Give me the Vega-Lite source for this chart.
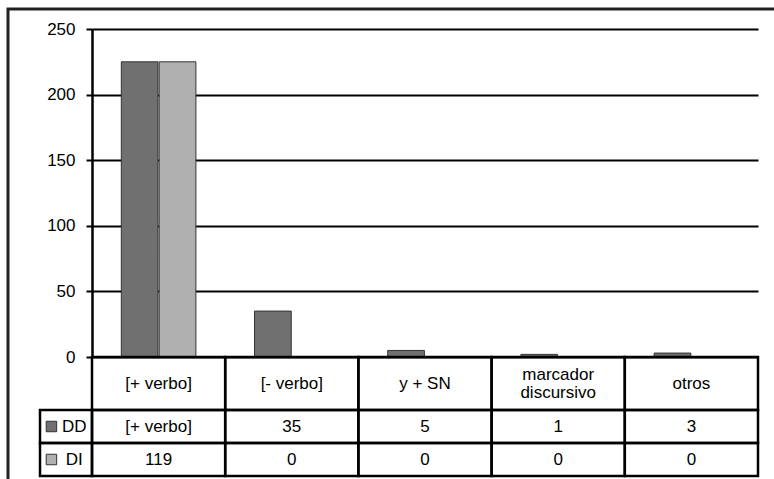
{
  "$schema": "https://vega.github.io/schema/vega-lite/v6.json",
  "width": 666,
  "height": 447,
  "autosize": {"type": "none"},
  "padding": {"left": 92, "top": 29, "right": 16, "bottom": 3},
  "background": "white",
  "config": {
    "view": {"stroke": null},
    "font": "Liberation Sans",
    "text": {"font": "Liberation Sans", "fontSize": 17, "color": "black"}
  },
  "datasets": {
    "bars": [
      {"cat": "[+ verbo]", "series": "DD", "value": 225, "label": "[+ verbo]"},
      {"cat": "[+ verbo]", "series": "DI", "value": 225, "label": "119"},
      {"cat": "[- verbo]", "series": "DD", "value": 35, "label": "35"},
      {"cat": "[- verbo]", "series": "DI", "value": 0, "label": "0"},
      {"cat": "y + SN", "series": "DD", "value": 5, "label": "5"},
      {"cat": "y + SN", "series": "DI", "value": 0, "label": "0"},
      {"cat": "marcador discursivo", "series": "DD", "value": 2, "label": "1"},
      {"cat": "marcador discursivo", "series": "DI", "value": 0, "label": "0"},
      {"cat": "otros", "series": "DD", "value": 3, "label": "3"},
      {"cat": "otros", "series": "DI", "value": 0, "label": "0"}
    ],
    "cats": [
      {"cat": "[+ verbo]", "header": "[+ verbo]", "lines": 1},
      {"cat": "[- verbo]", "header": "[- verbo]", "lines": 1},
      {"cat": "y + SN", "header": "y + SN", "lines": 1},
      {"cat": "marcador discursivo", "header": "marcador\ndiscursivo", "lines": 2},
      {"cat": "otros", "header": "otros", "lines": 1}
    ]
  },
  "resolve": {"scale": {"x": "independent", "y": "independent", "color": "independent", "xOffset": "independent"}},
  "layer": [
    {
      "data": {"name": "bars"},
      "mark": {"type": "bar", "stroke": "#333333", "strokeWidth": 1, "clip": false},
      "encoding": {
        "x": {"field": "cat", "type": "nominal", "axis": null,
              "scale": {"type": "band", "domain": ["[+ verbo]", "[- verbo]", "y + SN", "marcador discursivo", "otros"], "paddingInner": 0.44, "paddingOuter": 0.22}},
        "xOffset": {"field": "series", "type": "nominal", "scale": {"domain": ["DD", "DI"], "paddingInner": 0.03}},
        "y": {"field": "value", "type": "quantitative",
              "scale": {"domain": [0, 250], "range": [328, 0], "nice": false, "zero": true},
              "axis": {"title": null, "values": [0, 50, 100, 150, 200, 250], "grid": true, "gridColor": "black", "gridWidth": 2, "gridOpacity": 1,
                       "domainColor": "black", "domainWidth": 2.5, "tickColor": "black", "tickWidth": 2, "tickSize": 6,
                       "labelFont": "Liberation Sans", "labelFontSize": 17, "labelColor": "black", "labelPadding": 11}},
        "color": {"field": "series", "type": "nominal", "legend": null,
                  "scale": {"domain": ["DD", "DI"], "range": ["#707070", "#b0b0b0"]}}
      }
    },
    {
      "data": {"name": "cats"},
      "mark": {"type": "rect", "fill": null, "fillOpacity": 0, "stroke": "black", "strokeWidth": 2.5, "clip": false},
      "encoding": {
        "x": {"field": "cat", "type": "nominal", "axis": null,
              "scale": {"type": "band", "domain": ["[+ verbo]", "[- verbo]", "y + SN", "marcador discursivo", "otros"], "paddingInner": 0, "paddingOuter": 0}},
        "y": {"datum": "h", "type": "nominal", "axis": null,
              "scale": {"type": "band", "domain": ["h"], "range": [328, 381], "paddingInner": 0, "paddingOuter": 0}}
      }
    },
    {
      "data": {"name": "cats"},
      "transform": [{"filter": "datum.lines === 1"}],
      "mark": {"type": "text", "align": "center", "baseline": "middle", "fontSize": 17, "clip": false},
      "encoding": {
        "x": {"field": "cat", "type": "nominal", "axis": null,
              "scale": {"type": "band", "domain": ["[+ verbo]", "[- verbo]", "y + SN", "marcador discursivo", "otros"], "paddingInner": 0, "paddingOuter": 0}},
        "y": {"datum": "h", "type": "nominal", "axis": null,
              "scale": {"type": "band", "domain": ["h"], "range": [328, 381], "paddingInner": 0, "paddingOuter": 0}},
        "text": {"field": "header"}
      }
    },
    {
      "data": {"name": "cats"},
      "transform": [{"filter": "datum.lines === 2"}],
      "mark": {"type": "text", "lineBreak": "\n", "align": "center", "baseline": "middle", "fontSize": 17, "lineHeight": 18, "dy": -9, "clip": false},
      "encoding": {
        "x": {"field": "cat", "type": "nominal", "axis": null,
              "scale": {"type": "band", "domain": ["[+ verbo]", "[- verbo]", "y + SN", "marcador discursivo", "otros"], "paddingInner": 0, "paddingOuter": 0}},
        "y": {"datum": "h", "type": "nominal", "axis": null,
              "scale": {"type": "band", "domain": ["h"], "range": [328, 381], "paddingInner": 0, "paddingOuter": 0}},
        "text": {"field": "header"}
      }
    },
    {
      "data": {"name": "bars"},
      "mark": {"type": "rect", "fill": null, "fillOpacity": 0, "stroke": "black", "strokeWidth": 2.5, "clip": false},
      "encoding": {
        "x": {"field": "cat", "type": "nominal", "axis": null,
              "scale": {"type": "band", "domain": ["[+ verbo]", "[- verbo]", "y + SN", "marcador discursivo", "otros"], "paddingInner": 0, "paddingOuter": 0}},
        "y": {"field": "series", "type": "nominal", "axis": null,
              "scale": {"type": "band", "domain": ["DD", "DI"], "range": [381, 447], "paddingInner": 0, "paddingOuter": 0}}
      }
    },
    {
      "data": {"name": "bars"},
      "mark": {"type": "text", "align": "center", "baseline": "middle", "fontSize": 17, "clip": false},
      "encoding": {
        "x": {"field": "cat", "type": "nominal", "axis": null,
              "scale": {"type": "band", "domain": ["[+ verbo]", "[- verbo]", "y + SN", "marcador discursivo", "otros"], "paddingInner": 0, "paddingOuter": 0}},
        "y": {"field": "series", "type": "nominal", "axis": null,
              "scale": {"type": "band", "domain": ["DD", "DI"], "range": [381, 447], "paddingInner": 0, "paddingOuter": 0}},
        "text": {"field": "label"}
      }
    },
    {
      "data": {"name": "bars"},
      "transform": [{"filter": "datum.cat === '[+ verbo]'"}],
      "mark": {"type": "rect", "fill": null, "fillOpacity": 0, "stroke": "black", "strokeWidth": 2.5, "clip": false},
      "encoding": {
        "x": {"datum": "lab", "type": "nominal", "axis": null,
              "scale": {"type": "band", "domain": ["lab"], "range": [-52, 0], "paddingInner": 0, "paddingOuter": 0}},
        "y": {"field": "series", "type": "nominal", "axis": null,
              "scale": {"type": "band", "domain": ["DD", "DI"], "range": [381, 447], "paddingInner": 0, "paddingOuter": 0}}
      }
    },
    {
      "data": {"name": "bars"},
      "transform": [{"filter": "datum.cat === '[+ verbo]'"}],
      "mark": {"type": "point", "shape": "square", "filled": true, "size": 110, "stroke": "#333333", "strokeWidth": 1, "opacity": 1, "clip": false},
      "encoding": {
        "x": {"datum": "lab", "type": "nominal", "axis": null, "bandPosition": 0.22,
              "scale": {"type": "band", "domain": ["lab"], "range": [-52, 0], "paddingInner": 0, "paddingOuter": 0}},
        "y": {"field": "series", "type": "nominal", "axis": null,
              "scale": {"type": "band", "domain": ["DD", "DI"], "range": [381, 447], "paddingInner": 0, "paddingOuter": 0}},
        "fill": {"field": "series", "type": "nominal", "legend": null,
                 "scale": {"domain": ["DD", "DI"], "range": ["#707070", "#b0b0b0"]}}
      }
    },
    {
      "data": {"name": "bars"},
      "transform": [{"filter": "datum.cat === '[+ verbo]'"}],
      "mark": {"type": "text", "align": "center", "baseline": "middle", "fontSize": 17, "clip": false},
      "encoding": {
        "x": {"datum": "lab", "type": "nominal", "axis": null, "bandPosition": 0.66,
              "scale": {"type": "band", "domain": ["lab"], "range": [-52, 0], "paddingInner": 0, "paddingOuter": 0}},
        "y": {"field": "series", "type": "nominal", "axis": null,
              "scale": {"type": "band", "domain": ["DD", "DI"], "range": [381, 447], "paddingInner": 0, "paddingOuter": 0}},
        "text": {"field": "series"}
      }
    },
    {
      "data": {"name": "cats"},
      "transform": [{"filter": "datum.cat === 'otros'"}],
      "mark": {"type": "rect", "fill": null, "fillOpacity": 0, "stroke": "#222222", "strokeWidth": 3, "clip": false},
      "encoding": {
        "x": {"datum": "frame", "type": "nominal", "axis": null,
              "scale": {"type": "band", "domain": ["frame"], "range": [-84, 720], "paddingInner": 0, "paddingOuter": 0}},
        "y": {"datum": "frame", "type": "nominal", "axis": null,
              "scale": {"type": "band", "domain": ["frame"], "range": [-20, 480], "paddingInner": 0, "paddingOuter": 0}}
      }
    }
  ]
}
